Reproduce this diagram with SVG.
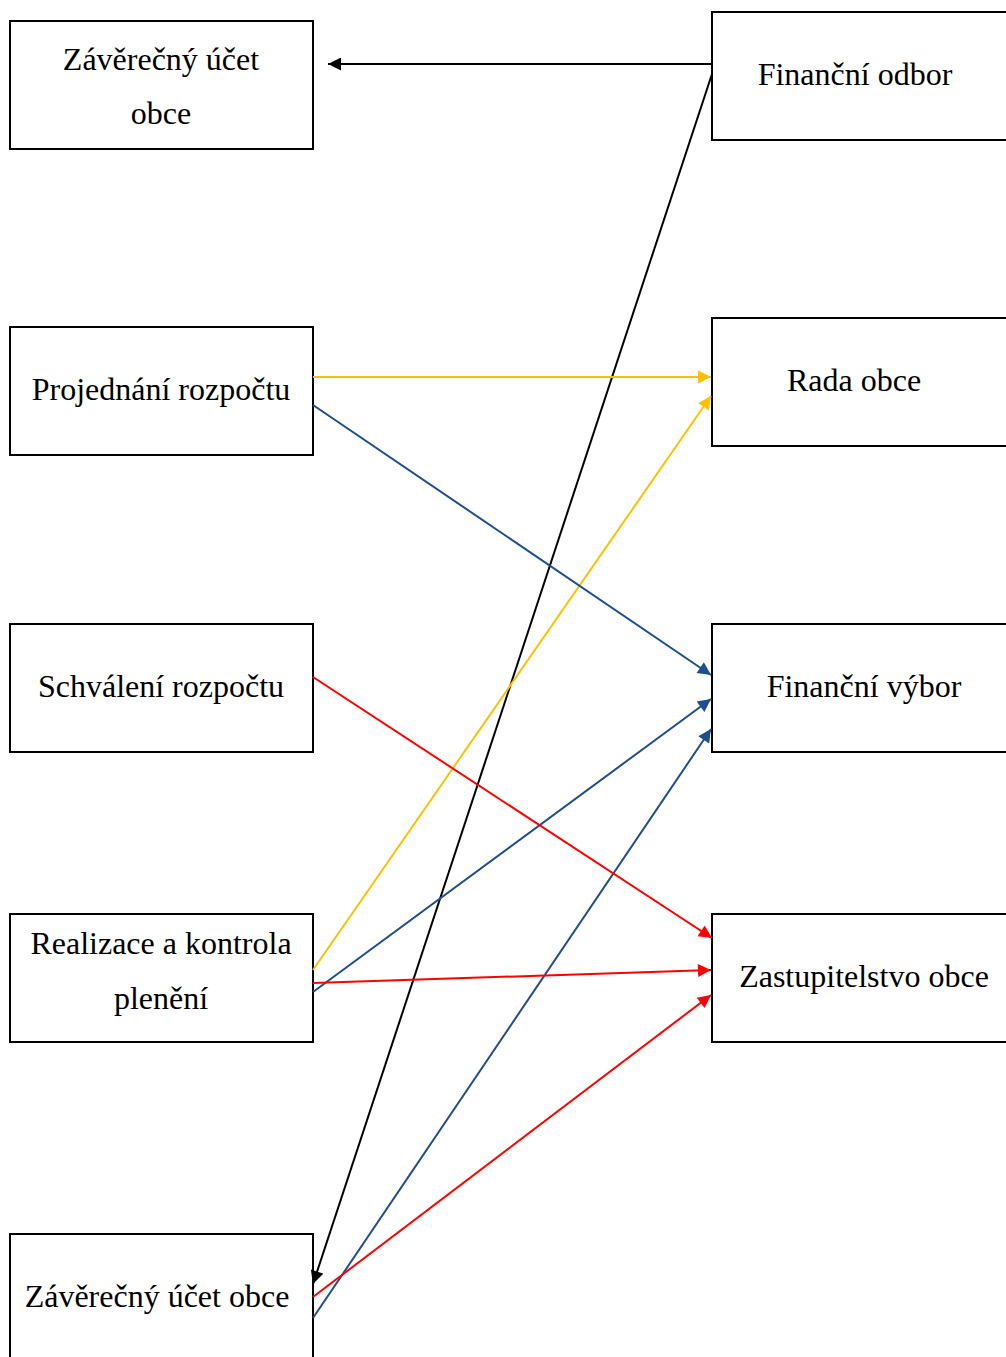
<svg xmlns="http://www.w3.org/2000/svg" width="1006" height="1357" viewBox="0 0 1006 1357">
  <style>
    .box { fill: #ffffff; stroke: #000000; stroke-width: 2; }
    .lbl { font-family: "Liberation Serif", "Times New Roman", serif; font-size: 32px; fill: #000000; text-anchor: middle; }
    .c { fill: none; stroke-width: 2; }
    .k { stroke: #000000; }
    .y { stroke: #FFC000; }
    .b { stroke: #1F4E8C; }
    .r { stroke: #FF0000; }
  </style>
  <defs>
    <marker id="ak" viewBox="0 0 10 10" refX="10" refY="5" markerWidth="15" markerHeight="13" markerUnits="userSpaceOnUse" orient="auto"><path d="M0,0 L10,5 L0,10 z" fill="#000000"/></marker>
    <marker id="ay" viewBox="0 0 10 10" refX="10" refY="5" markerWidth="15" markerHeight="13" markerUnits="userSpaceOnUse" orient="auto"><path d="M0,0 L10,5 L0,10 z" fill="#FFC000"/></marker>
    <marker id="ab" viewBox="0 0 10 10" refX="10" refY="5" markerWidth="15" markerHeight="13" markerUnits="userSpaceOnUse" orient="auto"><path d="M0,0 L10,5 L0,10 z" fill="#1F4E8C"/></marker>
    <marker id="ar" viewBox="0 0 10 10" refX="10" refY="5" markerWidth="15" markerHeight="13" markerUnits="userSpaceOnUse" orient="auto"><path d="M0,0 L10,5 L0,10 z" fill="#FF0000"/></marker>
  </defs>

  <!-- left column: budget stages -->
  <g id="zaverecny-ucet-top">
    <rect class="box" x="10" y="21" width="303" height="128"/>
    <text class="lbl" x="161" y="70">Závěrečný účet</text>
    <text class="lbl" x="161" y="124">obce</text>
  </g>
  <g id="projednani">
    <rect class="box" x="10" y="327" width="303" height="128"/>
    <text class="lbl" x="161" y="400">Projednání rozpočtu</text>
  </g>
  <g id="schvaleni">
    <rect class="box" x="10" y="624" width="303" height="128"/>
    <text class="lbl" x="161" y="697">Schválení rozpočtu</text>
  </g>
  <g id="realizace">
    <rect class="box" x="10" y="914" width="303" height="128"/>
    <text class="lbl" x="161" y="954">Realizace a kontrola</text>
    <text class="lbl" x="161" y="1009">plenění</text>
  </g>
  <g id="zaverecny-ucet-bottom">
    <rect class="box" x="10" y="1234" width="303" height="140"/>
    <text class="lbl" x="157" y="1307">Závěrečný účet obce</text>
  </g>

  <!-- right column: bodies -->
  <g id="financni-odbor">
    <rect class="box" x="712" y="12" width="310" height="128"/>
    <text class="lbl" x="855" y="85">Finanční odbor</text>
  </g>
  <g id="rada-obce">
    <rect class="box" x="712" y="318" width="310" height="128"/>
    <text class="lbl" x="854" y="391">Rada obce</text>
  </g>
  <g id="financni-vybor">
    <rect class="box" x="712" y="624" width="310" height="128"/>
    <text class="lbl" x="864" y="697">Finanční výbor</text>
  </g>
  <g id="zastupitelstvo">
    <rect class="box" x="712" y="914" width="310" height="128"/>
    <text class="lbl" x="864" y="987">Zastupitelstvo obce</text>
  </g>

  <!-- connectors -->
  <g id="connectors">
    <line class="c k" x1="712" y1="64" x2="328" y2="64" marker-end="url(#ak)"/>
    <line class="c k" x1="712" y1="74" x2="313" y2="1284" marker-end="url(#ak)"/>
    <line class="c y" x1="313" y1="377" x2="711" y2="377" marker-end="url(#ay)"/>
    <line class="c y" x1="313" y1="970" x2="711" y2="396" marker-end="url(#ay)"/>
    <line class="c b" x1="313" y1="405" x2="711" y2="675" marker-end="url(#ab)"/>
    <line class="c b" x1="313" y1="992" x2="711" y2="699" marker-end="url(#ab)"/>
    <line class="c b" x1="313" y1="1318" x2="711" y2="729" marker-end="url(#ab)"/>
    <line class="c r" x1="313" y1="677" x2="712" y2="938" marker-end="url(#ar)"/>
    <line class="c r" x1="313" y1="983" x2="711" y2="970" marker-end="url(#ar)"/>
    <line class="c r" x1="313" y1="1297" x2="711" y2="995" marker-end="url(#ar)"/>
  </g>
</svg>
